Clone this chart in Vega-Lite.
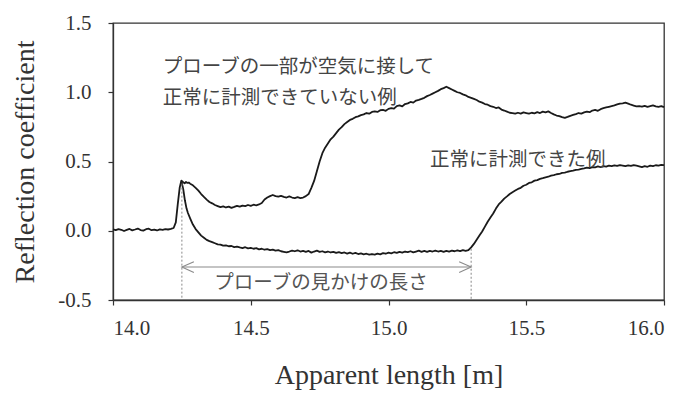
{
  "$schema": "https://vega.github.io/schema/vega-lite/v6.json",
  "width": 551,
  "height": 277,
  "autosize": {"type": "none"},
  "padding": {"left": 113, "top": 23, "right": 25, "bottom": 94},
  "background": "white",
  "config": {
    "view": {"stroke": "#333", "strokeWidth": 1.3},
    "axis": {
      "grid": false,
      "domainColor": "#333",
      "domainWidth": 1.3,
      "tickColor": "#333",
      "tickWidth": 1.2,
      "tickSize": 5,
      "labelFont": "Liberation Serif",
      "labelFontSize": 21,
      "labelColor": "#333",
      "titleFont": "Liberation Serif",
      "titleFontSize": 28,
      "titleFontWeight": "normal",
      "titleColor": "#333"
    }
  },
  "datasets": {
    "curves": [
      {"s":"n","x":14.00,"y":0.010},{"s":"n","x":14.01,"y":0.004},{"s":"n","x":14.02,"y":0.012},{"s":"n","x":14.03,"y":0.007},
      {"s":"n","x":14.04,"y":-0.002},{"s":"n","x":14.05,"y":0.006},{"s":"n","x":14.06,"y":0.013},{"s":"n","x":14.07,"y":0.003},
      {"s":"n","x":14.08,"y":0.009},{"s":"n","x":14.09,"y":0.016},{"s":"n","x":14.10,"y":0.005},{"s":"n","x":14.11,"y":0.001},
      {"s":"n","x":14.12,"y":0.011},{"s":"n","x":14.13,"y":0.015},{"s":"n","x":14.14,"y":0.004},{"s":"n","x":14.15,"y":0.008},
      {"s":"n","x":14.16,"y":0.002},{"s":"n","x":14.17,"y":0.010},{"s":"n","x":14.18,"y":0.006},{"s":"n","x":14.19,"y":0.012},
      {"s":"n","x":14.20,"y":0.009},{"s":"n","x":14.21,"y":0.013},{"s":"n","x":14.22,"y":0.020},{"s":"n","x":14.228,"y":0.06},
      {"s":"n","x":14.235,"y":0.19},{"s":"n","x":14.242,"y":0.31},{"s":"n","x":14.248,"y":0.362},{"s":"n","x":14.255,"y":0.30},
      {"s":"n","x":14.261,"y":0.22},{"s":"n","x":14.267,"y":0.16},{"s":"n","x":14.272,"y":0.128},{"s":"n","x":14.28,"y":0.09},
      {"s":"n","x":14.29,"y":0.045},{"s":"n","x":14.30,"y":0.012},{"s":"n","x":14.31,"y":-0.012},{"s":"n","x":14.32,"y":-0.035},
      {"s":"n","x":14.33,"y":-0.05},{"s":"n","x":14.34,"y":-0.066},{"s":"n","x":14.35,"y":-0.075},{"s":"n","x":14.36,"y":-0.082},
      {"s":"n","x":14.37,"y":-0.09},{"s":"n","x":14.38,"y":-0.098},{"s":"n","x":14.39,"y":-0.10},{"s":"n","x":14.40,"y":-0.108},
      {"s":"n","x":14.41,"y":-0.105},{"s":"n","x":14.42,"y":-0.112},{"s":"n","x":14.43,"y":-0.11},{"s":"n","x":14.44,"y":-0.118},
      {"s":"n","x":14.45,"y":-0.114},{"s":"n","x":14.46,"y":-0.12},{"s":"n","x":14.47,"y":-0.125},{"s":"n","x":14.48,"y":-0.119},
      {"s":"n","x":14.49,"y":-0.127},{"s":"n","x":14.50,"y":-0.124},{"s":"n","x":14.51,"y":-0.13},{"s":"n","x":14.52,"y":-0.126},
      {"s":"n","x":14.53,"y":-0.134},{"s":"n","x":14.54,"y":-0.13},{"s":"n","x":14.55,"y":-0.137},{"s":"n","x":14.56,"y":-0.133},
      {"s":"n","x":14.57,"y":-0.14},{"s":"n","x":14.58,"y":-0.136},{"s":"n","x":14.59,"y":-0.143},{"s":"n","x":14.60,"y":-0.14},
      {"s":"n","x":14.61,"y":-0.148},{"s":"n","x":14.62,"y":-0.152},{"s":"n","x":14.63,"y":-0.156},{"s":"n","x":14.64,"y":-0.15},
      {"s":"n","x":14.65,"y":-0.143},{"s":"n","x":14.66,"y":-0.148},{"s":"n","x":14.67,"y":-0.141},{"s":"n","x":14.68,"y":-0.15},
      {"s":"n","x":14.69,"y":-0.145},{"s":"n","x":14.70,"y":-0.152},{"s":"n","x":14.71,"y":-0.146},{"s":"n","x":14.72,"y":-0.158},
      {"s":"n","x":14.73,"y":-0.15},{"s":"n","x":14.74,"y":-0.144},{"s":"n","x":14.75,"y":-0.153},{"s":"n","x":14.76,"y":-0.148},
      {"s":"n","x":14.77,"y":-0.156},{"s":"n","x":14.78,"y":-0.15},{"s":"n","x":14.79,"y":-0.157},{"s":"n","x":14.80,"y":-0.152},
      {"s":"n","x":14.81,"y":-0.16},{"s":"n","x":14.82,"y":-0.155},{"s":"n","x":14.83,"y":-0.162},{"s":"n","x":14.84,"y":-0.157},
      {"s":"n","x":14.85,"y":-0.165},{"s":"n","x":14.86,"y":-0.158},{"s":"n","x":14.87,"y":-0.166},{"s":"n","x":14.88,"y":-0.16},
      {"s":"n","x":14.89,"y":-0.168},{"s":"n","x":14.90,"y":-0.163},{"s":"n","x":14.91,"y":-0.17},{"s":"n","x":14.92,"y":-0.166},
      {"s":"n","x":14.93,"y":-0.173},{"s":"n","x":14.94,"y":-0.168},{"s":"n","x":14.95,"y":-0.172},{"s":"n","x":14.96,"y":-0.165},
      {"s":"n","x":14.97,"y":-0.17},{"s":"n","x":14.98,"y":-0.162},{"s":"n","x":14.99,"y":-0.166},{"s":"n","x":15.00,"y":-0.158},
      {"s":"n","x":15.01,"y":-0.163},{"s":"n","x":15.02,"y":-0.155},{"s":"n","x":15.03,"y":-0.16},{"s":"n","x":15.04,"y":-0.152},
      {"s":"n","x":15.05,"y":-0.158},{"s":"n","x":15.06,"y":-0.15},{"s":"n","x":15.07,"y":-0.155},{"s":"n","x":15.08,"y":-0.148},
      {"s":"n","x":15.09,"y":-0.156},{"s":"n","x":15.10,"y":-0.15},{"s":"n","x":15.11,"y":-0.144},{"s":"n","x":15.12,"y":-0.152},
      {"s":"n","x":15.13,"y":-0.146},{"s":"n","x":15.14,"y":-0.153},{"s":"n","x":15.15,"y":-0.145},{"s":"n","x":15.16,"y":-0.15},
      {"s":"n","x":15.17,"y":-0.143},{"s":"n","x":15.18,"y":-0.15},{"s":"n","x":15.19,"y":-0.146},{"s":"n","x":15.20,"y":-0.152},
      {"s":"n","x":15.21,"y":-0.145},{"s":"n","x":15.22,"y":-0.15},{"s":"n","x":15.23,"y":-0.144},{"s":"n","x":15.24,"y":-0.148},
      {"s":"n","x":15.25,"y":-0.142},{"s":"n","x":15.26,"y":-0.147},{"s":"n","x":15.27,"y":-0.14},{"s":"n","x":15.28,"y":-0.145},
      {"s":"n","x":15.29,"y":-0.14},{"s":"n","x":15.30,"y":-0.12},{"s":"n","x":15.31,"y":-0.095},{"s":"n","x":15.32,"y":-0.065},
      {"s":"n","x":15.33,"y":-0.035},{"s":"n","x":15.34,"y":-0.005},{"s":"n","x":15.35,"y":0.03},{"s":"n","x":15.36,"y":0.065},
      {"s":"n","x":15.37,"y":0.095},{"s":"n","x":15.38,"y":0.125},{"s":"n","x":15.39,"y":0.16},{"s":"n","x":15.40,"y":0.19},
      {"s":"n","x":15.41,"y":0.21},{"s":"n","x":15.42,"y":0.232},{"s":"n","x":15.43,"y":0.248},{"s":"n","x":15.44,"y":0.265},
      {"s":"n","x":15.45,"y":0.278},{"s":"n","x":15.46,"y":0.29},{"s":"n","x":15.47,"y":0.302},{"s":"n","x":15.48,"y":0.31},
      {"s":"n","x":15.49,"y":0.325},{"s":"n","x":15.50,"y":0.332},{"s":"n","x":15.51,"y":0.345},{"s":"n","x":15.52,"y":0.35},
      {"s":"n","x":15.53,"y":0.362},{"s":"n","x":15.54,"y":0.366},{"s":"n","x":15.55,"y":0.375},{"s":"n","x":15.56,"y":0.38},
      {"s":"n","x":15.57,"y":0.386},{"s":"n","x":15.58,"y":0.39},{"s":"n","x":15.59,"y":0.398},{"s":"n","x":15.60,"y":0.402},
      {"s":"n","x":15.61,"y":0.408},{"s":"n","x":15.62,"y":0.41},{"s":"n","x":15.63,"y":0.418},{"s":"n","x":15.64,"y":0.42},
      {"s":"n","x":15.65,"y":0.426},{"s":"n","x":15.66,"y":0.43},{"s":"n","x":15.67,"y":0.434},{"s":"n","x":15.68,"y":0.44},
      {"s":"n","x":15.69,"y":0.442},{"s":"n","x":15.70,"y":0.447},{"s":"n","x":15.71,"y":0.45},{"s":"n","x":15.72,"y":0.455},
      {"s":"n","x":15.73,"y":0.452},{"s":"n","x":15.74,"y":0.46},{"s":"n","x":15.75,"y":0.458},{"s":"n","x":15.76,"y":0.464},
      {"s":"n","x":15.77,"y":0.46},{"s":"n","x":15.78,"y":0.466},{"s":"n","x":15.79,"y":0.463},{"s":"n","x":15.80,"y":0.47},
      {"s":"n","x":15.81,"y":0.466},{"s":"n","x":15.82,"y":0.472},{"s":"n","x":15.83,"y":0.468},{"s":"n","x":15.84,"y":0.474},
      {"s":"n","x":15.85,"y":0.47},{"s":"n","x":15.86,"y":0.466},{"s":"n","x":15.87,"y":0.472},{"s":"n","x":15.88,"y":0.468},
      {"s":"n","x":15.89,"y":0.474},{"s":"n","x":15.90,"y":0.47},{"s":"n","x":15.91,"y":0.465},{"s":"n","x":15.92,"y":0.46},
      {"s":"n","x":15.93,"y":0.466},{"s":"n","x":15.94,"y":0.462},{"s":"n","x":15.95,"y":0.47},{"s":"n","x":15.96,"y":0.466},
      {"s":"n","x":15.97,"y":0.473},{"s":"n","x":15.98,"y":0.47},{"s":"n","x":15.99,"y":0.476},{"s":"n","x":16.00,"y":0.474},

      {"s":"a","x":14.248,"y":0.362},{"s":"a","x":14.255,"y":0.35},{"s":"a","x":14.26,"y":0.342},{"s":"a","x":14.265,"y":0.352},
      {"s":"a","x":14.27,"y":0.345},{"s":"a","x":14.275,"y":0.348},{"s":"a","x":14.28,"y":0.34},{"s":"a","x":14.29,"y":0.328},
      {"s":"a","x":14.30,"y":0.31},{"s":"a","x":14.31,"y":0.29},{"s":"a","x":14.32,"y":0.265},{"s":"a","x":14.33,"y":0.244},
      {"s":"a","x":14.34,"y":0.225},{"s":"a","x":14.35,"y":0.208},{"s":"a","x":14.36,"y":0.198},{"s":"a","x":14.37,"y":0.186},
      {"s":"a","x":14.38,"y":0.178},{"s":"a","x":14.39,"y":0.17},{"s":"a","x":14.40,"y":0.176},{"s":"a","x":14.41,"y":0.168},
      {"s":"a","x":14.42,"y":0.174},{"s":"a","x":14.43,"y":0.165},{"s":"a","x":14.44,"y":0.172},{"s":"a","x":14.45,"y":0.18},
      {"s":"a","x":14.46,"y":0.174},{"s":"a","x":14.47,"y":0.182},{"s":"a","x":14.48,"y":0.178},{"s":"a","x":14.49,"y":0.186},
      {"s":"a","x":14.50,"y":0.18},{"s":"a","x":14.51,"y":0.188},{"s":"a","x":14.52,"y":0.184},{"s":"a","x":14.53,"y":0.19},
      {"s":"a","x":14.54,"y":0.2},{"s":"a","x":14.55,"y":0.226},{"s":"a","x":14.56,"y":0.24},{"s":"a","x":14.57,"y":0.25},
      {"s":"a","x":14.58,"y":0.258},{"s":"a","x":14.59,"y":0.25},{"s":"a","x":14.60,"y":0.246},{"s":"a","x":14.61,"y":0.252},
      {"s":"a","x":14.62,"y":0.245},{"s":"a","x":14.63,"y":0.24},{"s":"a","x":14.64,"y":0.248},{"s":"a","x":14.65,"y":0.24},
      {"s":"a","x":14.66,"y":0.236},{"s":"a","x":14.67,"y":0.242},{"s":"a","x":14.68,"y":0.236},{"s":"a","x":14.69,"y":0.24},
      {"s":"a","x":14.70,"y":0.25},{"s":"a","x":14.71,"y":0.265},{"s":"a","x":14.72,"y":0.31},{"s":"a","x":14.73,"y":0.36},
      {"s":"a","x":14.74,"y":0.43},{"s":"a","x":14.75,"y":0.5},{"s":"a","x":14.76,"y":0.56},{"s":"a","x":14.77,"y":0.6},
      {"s":"a","x":14.78,"y":0.63},{"s":"a","x":14.79,"y":0.66},{"s":"a","x":14.80,"y":0.68},{"s":"a","x":14.81,"y":0.705},
      {"s":"a","x":14.82,"y":0.73},{"s":"a","x":14.83,"y":0.748},{"s":"a","x":14.84,"y":0.77},{"s":"a","x":14.85,"y":0.785},
      {"s":"a","x":14.86,"y":0.8},{"s":"a","x":14.87,"y":0.808},{"s":"a","x":14.88,"y":0.82},{"s":"a","x":14.89,"y":0.826},
      {"s":"a","x":14.90,"y":0.835},{"s":"a","x":14.91,"y":0.84},{"s":"a","x":14.92,"y":0.85},{"s":"a","x":14.93,"y":0.845},
      {"s":"a","x":14.94,"y":0.858},{"s":"a","x":14.95,"y":0.862},{"s":"a","x":14.96,"y":0.858},{"s":"a","x":14.97,"y":0.87},
      {"s":"a","x":14.98,"y":0.872},{"s":"a","x":14.99,"y":0.866},{"s":"a","x":15.00,"y":0.88},{"s":"a","x":15.01,"y":0.886},
      {"s":"a","x":15.02,"y":0.882},{"s":"a","x":15.03,"y":0.9},{"s":"a","x":15.04,"y":0.905},{"s":"a","x":15.05,"y":0.898},
      {"s":"a","x":15.06,"y":0.915},{"s":"a","x":15.07,"y":0.92},{"s":"a","x":15.08,"y":0.93},{"s":"a","x":15.09,"y":0.925},
      {"s":"a","x":15.10,"y":0.94},{"s":"a","x":15.11,"y":0.945},{"s":"a","x":15.12,"y":0.952},{"s":"a","x":15.13,"y":0.96},
      {"s":"a","x":15.14,"y":0.972},{"s":"a","x":15.15,"y":0.98},{"s":"a","x":15.16,"y":0.99},{"s":"a","x":15.17,"y":1.0},
      {"s":"a","x":15.18,"y":1.01},{"s":"a","x":15.19,"y":1.022},{"s":"a","x":15.20,"y":1.03},{"s":"a","x":15.21,"y":1.04},
      {"s":"a","x":15.22,"y":1.03},{"s":"a","x":15.23,"y":1.02},{"s":"a","x":15.24,"y":1.01},{"s":"a","x":15.25,"y":1.0},
      {"s":"a","x":15.26,"y":0.995},{"s":"a","x":15.27,"y":0.985},{"s":"a","x":15.28,"y":0.978},{"s":"a","x":15.29,"y":0.966},
      {"s":"a","x":15.30,"y":0.96},{"s":"a","x":15.31,"y":0.952},{"s":"a","x":15.32,"y":0.944},{"s":"a","x":15.33,"y":0.932},
      {"s":"a","x":15.34,"y":0.925},{"s":"a","x":15.35,"y":0.915},{"s":"a","x":15.36,"y":0.91},{"s":"a","x":15.37,"y":0.9},
      {"s":"a","x":15.38,"y":0.895},{"s":"a","x":15.39,"y":0.886},{"s":"a","x":15.40,"y":0.89},{"s":"a","x":15.41,"y":0.875},
      {"s":"a","x":15.42,"y":0.868},{"s":"a","x":15.43,"y":0.86},{"s":"a","x":15.44,"y":0.852},{"s":"a","x":15.45,"y":0.85},
      {"s":"a","x":15.46,"y":0.845},{"s":"a","x":15.47,"y":0.852},{"s":"a","x":15.48,"y":0.846},{"s":"a","x":15.49,"y":0.855},
      {"s":"a","x":15.50,"y":0.85},{"s":"a","x":15.51,"y":0.845},{"s":"a","x":15.52,"y":0.852},{"s":"a","x":15.53,"y":0.848},
      {"s":"a","x":15.54,"y":0.856},{"s":"a","x":15.55,"y":0.85},{"s":"a","x":15.56,"y":0.86},{"s":"a","x":15.57,"y":0.855},
      {"s":"a","x":15.58,"y":0.862},{"s":"a","x":15.59,"y":0.85},{"s":"a","x":15.60,"y":0.84},{"s":"a","x":15.61,"y":0.832},
      {"s":"a","x":15.62,"y":0.828},{"s":"a","x":15.63,"y":0.82},{"s":"a","x":15.64,"y":0.815},{"s":"a","x":15.65,"y":0.822},
      {"s":"a","x":15.66,"y":0.83},{"s":"a","x":15.67,"y":0.836},{"s":"a","x":15.68,"y":0.842},{"s":"a","x":15.69,"y":0.85},
      {"s":"a","x":15.70,"y":0.846},{"s":"a","x":15.71,"y":0.855},{"s":"a","x":15.72,"y":0.86},{"s":"a","x":15.73,"y":0.856},
      {"s":"a","x":15.74,"y":0.868},{"s":"a","x":15.75,"y":0.872},{"s":"a","x":15.76,"y":0.866},{"s":"a","x":15.77,"y":0.878},
      {"s":"a","x":15.78,"y":0.885},{"s":"a","x":15.79,"y":0.89},{"s":"a","x":15.80,"y":0.895},{"s":"a","x":15.81,"y":0.9},
      {"s":"a","x":15.82,"y":0.905},{"s":"a","x":15.83,"y":0.912},{"s":"a","x":15.84,"y":0.918},{"s":"a","x":15.85,"y":0.92},
      {"s":"a","x":15.86,"y":0.925},{"s":"a","x":15.87,"y":0.918},{"s":"a","x":15.88,"y":0.91},{"s":"a","x":15.89,"y":0.904},
      {"s":"a","x":15.90,"y":0.898},{"s":"a","x":15.91,"y":0.9},{"s":"a","x":15.92,"y":0.896},{"s":"a","x":15.93,"y":0.902},
      {"s":"a","x":15.94,"y":0.895},{"s":"a","x":15.95,"y":0.9},{"s":"a","x":15.96,"y":0.905},{"s":"a","x":15.97,"y":0.898},
      {"s":"a","x":15.98,"y":0.895},{"s":"a","x":15.99,"y":0.9},{"s":"a","x":16.00,"y":0.892}
    ],
    "markers": [
      {"x": 14.25, "y": 0.34, "y2": -0.5},
      {"x": 15.30, "y": -0.13, "y2": -0.5}
    ],
    "span": [
      {"x": 14.25, "x2": 15.30, "y": -0.262}
    ],
    "heads": [
      {"x": 14.25, "y": -0.262, "side": "L"},
      {"x": 15.30, "y": -0.262, "side": "R"}
    ],
    "notes": [
      {"x": 14.181, "y": 1.182, "text": "プローブの一部が空気に接して"},
      {"x": 14.181, "y": 0.958, "text": "正常に計測できていない例"},
      {"x": 15.151, "y": 0.511, "text": "正常に計測できた例"}
    ],
    "spanLabel": [
      {"x": 14.755, "y": -0.377, "text": "プローブの見かけの長さ"}
    ]
  },
  "encoding": {
    "x": {
      "field": "x", "type": "quantitative",
      "scale": {"domain": [14, 16], "nice": false, "zero": false},
      "axis": {
        "values": [14, 14.5, 15, 15.5, 16],
        "format": ".1f",
        "labelFont": "Liberation Serif",
        "labelFontSize": 21,
        "labelColor": "#333",
        "labelPadding": 12,
        "title": "Apparent length [m]",
        "titlePadding": 23
      }
    },
    "y": {
      "field": "y", "type": "quantitative",
      "scale": {"domain": [-0.5, 1.5], "nice": false, "zero": false},
      "axis": {
        "values": [-0.5, 0, 0.5, 1, 1.5],
        "labelExpr": "datum.value < 0 ? '-' + format(-datum.value, '.1f') : format(datum.value, '.1f')",
        "labelFont": "Liberation Serif",
        "labelFontSize": 21,
        "labelColor": "#333",
        "labelPadding": 17,
        "title": "Reflection coefficient",
        "titlePadding": 18
      }
    }
  },
  "layer": [
    {
      "data": {"name": "curves"},
      "mark": {"type": "line", "color": "#1a1a1a", "strokeWidth": 1.8, "strokeJoin": "round"},
      "encoding": {
        "detail": {"field": "s"}
      }
    },
    {
      "data": {"name": "markers"},
      "mark": {"type": "rule", "color": "#888", "strokeWidth": 1, "strokeDash": [2, 2]},
      "encoding": {
        "y2": {"field": "y2"}
      }
    },
    {
      "data": {"name": "span"},
      "mark": {"type": "rule", "color": "#8a8a8a", "strokeWidth": 1.1},
      "encoding": {
        "x2": {"field": "x2"}
      }
    },
    {
      "data": {"name": "heads"},
      "mark": {"type": "point", "filled": false, "color": "#8a8a8a", "strokeWidth": 1.1, "size": 144, "opacity": 1},
      "encoding": {
        "shape": {
          "field": "side", "type": "nominal",
          "scale": {"domain": ["L", "R"], "range": ["M2,-0.9L0,0L2,0.9", "M-2,-0.9L0,0L-2,0.9"]},
          "legend": null
        }
      }
    },
    {
      "data": {"name": "notes"},
      "mark": {"type": "text", "font": "Noto Sans CJK JP", "fontSize": 19.5, "color": "#444", "align": "left", "baseline": "middle"},
      "encoding": {
        "text": {"field": "text"}
      }
    },
    {
      "data": {"name": "spanLabel"},
      "mark": {"type": "text", "font": "Noto Sans CJK JP", "fontSize": 19.5, "color": "#555", "align": "center", "baseline": "middle"},
      "encoding": {
        "text": {"field": "text"}
      }
    }
  ]
}
